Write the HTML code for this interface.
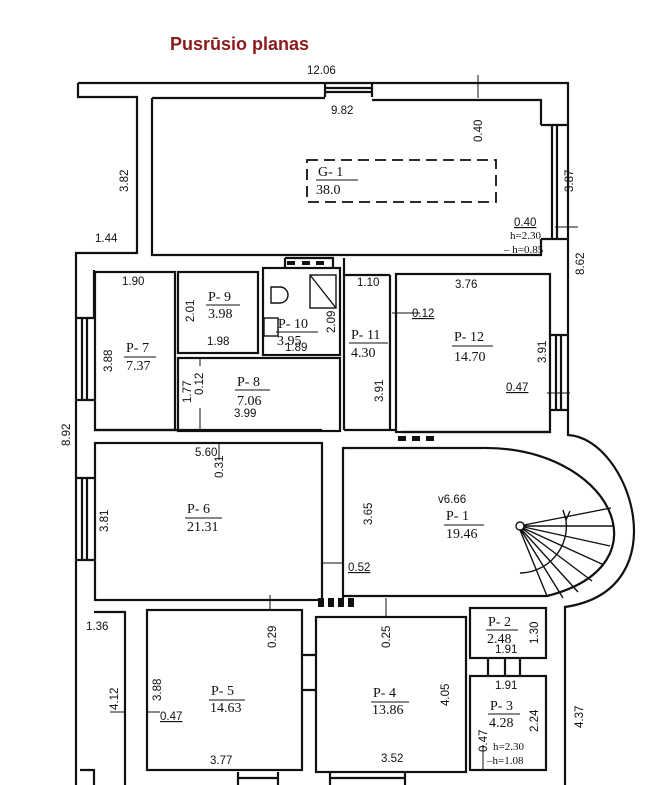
<!DOCTYPE html>
<html><head><meta charset="utf-8"><style>
html,body{margin:0;padding:0;background:#fff;}
svg{display:block;}
.d{font-family:"Liberation Sans",sans-serif;font-size:11.5px;fill:#111;}
.s{font-family:"Liberation Serif",serif;font-size:14px;fill:#111;}
.ss{font-family:"Liberation Serif",serif;font-size:11px;fill:#111;}
</style></head><body>
<svg width="670" height="785" viewBox="0 0 670 785" xmlns="http://www.w3.org/2000/svg">
<rect width="670" height="785" fill="#fff"/>
<text x="170" y="50" font-family="Liberation Sans,sans-serif" font-weight="bold" font-size="18" fill="#8b1a1a">Pusrūsio planas</text>
<g fill="none" stroke="#111" stroke-width="2.2">
<path d="M78,83 H568 V435 C630,438 680,590 565,607 V785"/>
<path d="M76,785 V253 H137 V97 H78 V83"/>
<path d="M325,83 V97 M372,83 V97 M325,88 H372 M325,92 H372"/>
<path d="M152,98 H325 M372,100 H541 V125 M541,239 V255 H152 V98"/>
<path d="M541,125 H568 M541,239 H568 M552,125 V239 M557,125 V239"/>
<rect x="307" y="160" width="189" height="42" stroke-dasharray="11,6" stroke-width="1.8"/>
<path d="M76,318 H94 M76,400 H94 M82,318 V400 M87,318 V400 M94,270 V318"/>
<path d="M76,478 H94 M76,560 H94 M82,478 V560 M87,478 V560"/>
<rect x="95" y="272" width="80" height="158"/>
<rect x="178" y="272" width="80" height="81"/>
<rect x="263" y="268" width="77" height="87"/>
<path d="M285,258 H333 V268 M285,258 V268"/>
<rect x="178" y="358" width="162" height="73"/>
<path d="M344,258 V430 M344,275 H390 M390,275 V430"/>
<rect x="396" y="274" width="154" height="158"/>
<path d="M550,335 H568 M550,410 H568 M556,335 V410 M561,335 V410"/>
<path d="M94,430 H322 M344,430 H396 M402,432 H550"/>
<rect x="95" y="443" width="227" height="157"/>
<path d="M343,598 V448 H480 C610,445 670,565 547,596 H343"/>
<g stroke-width="1.4">
<circle cx="520" cy="526" r="4" fill="#fff"/>
<path d="M524,525 L611,508 M524,526 L613,526 M524,527 L610,546 M523,528 L604,565 M523,529 L592,581 M522,530 L578,592 M521,530 L563,598 M520,530 L547,596"/>
<path d="M566,520 A47 47 0 0 1 520,573" />
<path d="M563,510 L566,520 L570,511"/>
</g>
<g fill="#111" stroke="none">
<rect x="318" y="598" width="6" height="9"/><rect x="328" y="598" width="6" height="9"/><rect x="338" y="598" width="6" height="9"/><rect x="348" y="598" width="6" height="9"/>
<rect x="398" y="436" width="8" height="5"/><rect x="412" y="436" width="8" height="5"/><rect x="426" y="436" width="8" height="5"/>
<rect x="287" y="261" width="8" height="4"/><rect x="302" y="261" width="8" height="4"/><rect x="316" y="261" width="8" height="4"/>
</g>
<g stroke-width="1.4">
<rect x="310" y="275" width="26" height="33"/><path d="M310,275 L336,308"/>
<path d="M271,287 H280 A8 8 0 0 1 280,303 H271 Z M271,287 V303"/>
<rect x="264" y="318" width="14" height="18"/>
</g>
<path d="M94,612 H125 V785 M80,770 H94 V785"/>
<rect x="147" y="610" width="155" height="160"/>
<path d="M302,655 H316 M302,690 H316"/>
<rect x="316" y="617" width="150" height="155"/>
<rect x="470" y="608" width="76" height="50"/>
<rect x="470" y="676" width="76" height="94"/>
<path d="M488,658 V676 M505,658 V676 M520,658 V676"/>
<path d="M238,772 V785 M278,772 V785 M330,772 V785 M405,772 V785 M238,778 H278 M330,778 H405"/>
</g>
<g class="s">
<text x="318" y="176">G- 1</text><line x1="316" y1="180" x2="358" y2="180" stroke="#111"/><text x="316" y="194">38.0</text>
<text x="208" y="301">P- 9</text><line x1="206" y1="305" x2="240" y2="305" stroke="#111"/><text x="208" y="318">3.98</text>
<text x="278" y="328">P- 10</text><line x1="276" y1="332" x2="318" y2="332" stroke="#111"/><text x="277" y="345">3.95</text>
<text x="351" y="339">P- 11</text><line x1="349" y1="343" x2="388" y2="343" stroke="#111"/><text x="351" y="357">4.30</text>
<text x="454" y="341">P- 12</text><line x1="452" y1="346" x2="493" y2="346" stroke="#111"/><text x="454" y="361">14.70</text>
<text x="126" y="352">P- 7</text><line x1="124" y1="357" x2="156" y2="357" stroke="#111"/><text x="126" y="370">7.37</text>
<text x="237" y="386">P- 8</text><line x1="235" y1="390" x2="270" y2="390" stroke="#111"/><text x="237" y="405">7.06</text>
<text x="187" y="513">P- 6</text><line x1="185" y1="518" x2="222" y2="518" stroke="#111"/><text x="187" y="531">21.31</text>
<text x="446" y="520">P- 1</text><line x1="444" y1="525" x2="484" y2="525" stroke="#111"/><text x="446" y="538">19.46</text>
<text x="488" y="626">P- 2</text><line x1="486" y1="630" x2="518" y2="630" stroke="#111"/><text x="487" y="643">2.48</text>
<text x="490" y="710">P- 3</text><line x1="488" y1="714" x2="520" y2="714" stroke="#111"/><text x="489" y="727">4.28</text>
<text x="211" y="695">P- 5</text><line x1="209" y1="700" x2="245" y2="700" stroke="#111"/><text x="210" y="712">14.63</text>
<text x="373" y="697">P- 4</text><line x1="371" y1="702" x2="409" y2="702" stroke="#111"/><text x="372" y="714">13.86</text>
</g>
<g class="d">
<text x="307" y="74">12.06</text>
<text x="331" y="114">9.82</text>
<text x="95" y="242">1.44</text>
<text x="122" y="285">1.90</text>
<text x="455" y="288">3.76</text>
<text x="357" y="286">1.10</text>
<text x="207" y="345">1.98</text>
<text x="285" y="351">1.89</text>
<text x="412" y="317" text-decoration="underline">0.12</text>
<text x="234" y="417">3.99</text>
<text x="506" y="391" text-decoration="underline">0.47</text>
<text x="195" y="456">5.60</text>
<text x="438" y="503">v6.66</text>
<text x="348" y="571" text-decoration="underline">0.52</text>
<text x="86" y="630">1.36</text>
<text x="495" y="653">1.91</text>
<text x="495" y="689">1.91</text>
<text x="160" y="720" text-decoration="underline">0.47</text>
<text x="210" y="764">3.77</text>
<text x="381" y="762">3.52</text>
<text x="514" y="226" text-decoration="underline">0.40</text>
</g>
<g class="ss">
<text x="510" y="239">h=2.30</text>
<text x="504" y="253">– h=0.85</text>
<text x="493" y="750">h=2.30</text>
<text x="487" y="764">–h=1.08</text>
</g>
<g class="d">
<text transform="translate(482,142) rotate(-90)">0.40</text>
<text transform="translate(573,192) rotate(-90)">3.87</text>
<text transform="translate(128,192) rotate(-90)">3.82</text>
<text transform="translate(584,275) rotate(-90)">8.62</text>
<text transform="translate(194,322) rotate(-90)">2.01</text>
<text transform="translate(335,333) rotate(-90)">2.09</text>
<text transform="translate(546,363) rotate(-90)">3.91</text>
<text transform="translate(112,372) rotate(-90)">3.88</text>
<text transform="translate(191,403) rotate(-90)">1.77</text>
<text transform="translate(203,395) rotate(-90)">0.12</text>
<text transform="translate(383,402) rotate(-90)">3.91</text>
<text transform="translate(70,446) rotate(-90)">8.92</text>
<text transform="translate(223,478) rotate(-90)">0.31</text>
<text transform="translate(108,532) rotate(-90)">3.81</text>
<text transform="translate(372,525) rotate(-90)">3.65</text>
<text transform="translate(276,648) rotate(-90)">0.29</text>
<text transform="translate(390,648) rotate(-90)">0.25</text>
<text transform="translate(538,644) rotate(-90)">1.30</text>
<text transform="translate(538,732) rotate(-90)">2.24</text>
<text transform="translate(583,728) rotate(-90)">4.37</text>
<text transform="translate(487,752) rotate(-90)">0.47</text>
<text transform="translate(118,710) rotate(-90)">4.12</text>
<text transform="translate(161,701) rotate(-90)">3.88</text>
<text transform="translate(449,706) rotate(-90)">4.05</text>
</g>
<g stroke="#111" stroke-width="1" fill="none">
<path d="M478,75 V98 M555,227 H578 M547,393 H570 M219,460 V443 M270,595 V610 M386,598 V617 M323,563 H343 M392,313 H420 M200,408 V430 M110,712 H125 M147,712 H160 M200,366 V358 M483,770 V745"/>
</g>
</svg>
</body></html>
